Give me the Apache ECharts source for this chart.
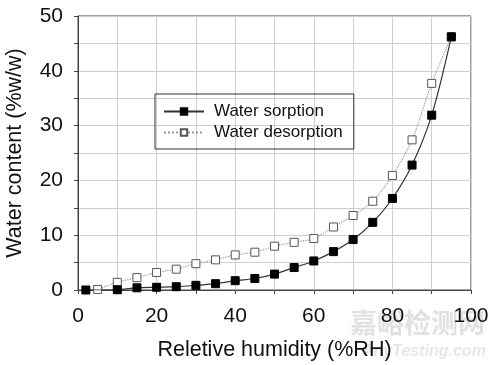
<!DOCTYPE html>
<html><head><meta charset="utf-8">
<script src="https://cdn.jsdelivr.net/npm/echarts@6/dist/echarts.min.js"></script>
<style>html,body{margin:0;padding:0;background:#fff}#c{width:500px;height:365px}</style>
</head><body><div id="c"></div>
<script>
const sorptionRH = [2, 10, 15, 20, 25, 30, 35, 40, 45, 50, 55, 60, 65, 70, 75, 80, 85, 90, 95];
const sorptionWC = [0, 0.05, 0.4, 0.5, 0.6, 0.85, 1.15, 1.7, 2.1, 2.9, 4.1, 5.3, 7.0, 9.2, 12.35, 16.7, 22.8, 31.9, 46.2];
const desorptionRH = [5, 10, 15, 20, 25, 30, 35, 40, 45, 50, 55, 60, 65, 70, 75, 80, 85, 90, 95];
const desorptionWC = [0.1, 1.4, 2.25, 3.2, 3.8, 4.8, 5.5, 6.4, 6.9, 8.0, 8.7, 9.4, 11.5, 13.6, 16.2, 20.9, 27.4, 37.7, 46.2];
const seriesNames = ['Water sorption', 'Water desorption'];
const xTitle = 'Reletive humidity (%RH)';
const yTitle = 'Water content (%w/w)';

const font = 'Liberation Sans, Arial, sans-serif';
const chart = echarts.init(document.getElementById('c'), null, {renderer: 'canvas'});
chart.setOption({
  animation: false,
  grid: {left: 78, right: 29, top: 16, bottom: 75, containLabel: false, outerBoundsMode: 'none',
    show: true, borderColor: '#444', borderWidth: 1, backgroundColor: 'transparent'},
  legend: {
    left: 155, top: 94, orient: 'vertical',
    borderColor: '#333', borderWidth: 1, padding: [9, 11, 8, 8],
    itemWidth: 40, itemHeight: 8, itemGap: 4,
    textStyle: {fontFamily: font, fontSize: 17, color: '#111', padding: [0, 0, 0, 5]},
    data: seriesNames
  },
  xAxis: {
    type: 'value', min: 0, max: 100, interval: 10,
    name: xTitle, nameLocation: 'middle', nameGap: 49,
    nameTextStyle: {fontFamily: font, fontSize: 21.5, color: '#111'},
    axisLine: {show: true, lineStyle: {color: '#444'}},
    axisTick: {show: true, length: 4, lineStyle: {color: '#444'}},
    axisLabel: {fontFamily: font, fontSize: 21, color: '#111', margin: 16,
      formatter: v => (v % 20 === 0 ? String(v) : '')},
    splitLine: {show: true, lineStyle: {color: '#cfcfcf', width: 1}}
  },
  yAxis: {
    type: 'value', min: 0, max: 50, interval: 5,
    name: yTitle, nameLocation: 'middle', nameGap: 52, nameRotate: 90,
    nameTextStyle: {fontFamily: font, fontSize: 21.5, color: '#111'},
    axisLine: {show: true, lineStyle: {color: '#444'}},
    axisTick: {show: true, length: 4, lineStyle: {color: '#444'}},
    axisLabel: {fontFamily: font, fontSize: 21, color: '#111', margin: 15,
      formatter: v => (v % 10 === 0 ? String(v) : '')},
    splitLine: {show: true, lineStyle: {color: '#cfcfcf', width: 1}}
  },
  series: [
    {
      name: seriesNames[0], type: 'line', smooth: 0.3,
      data: sorptionRH.map((x, i) => [x, sorptionWC[i]]),
      symbol: 'rect', symbolSize: 8,
      lineStyle: {color: '#333', width: 1.2, type: 'solid'},
      itemStyle: {color: '#000', borderColor: '#000', borderWidth: 1},
      z: 3
    },
    {
      name: seriesNames[1], type: 'line', smooth: 0.3,
      data: desorptionRH.map((x, i) => [x, desorptionWC[i]]),
      symbol: 'rect', symbolSize: 8,
      lineStyle: {color: '#999', width: 1.2, type: 'dotted'},
      itemStyle: {color: '#fff', borderColor: '#555', borderWidth: 1},
      z: 2
    }
  ],
  graphic: [
    {type: 'text', left: 350, top: 309, z: 0, style: {text: '嘉峪检测网', fontFamily: 'Noto Sans CJK SC', fontSize: 27, fontWeight: 'bold', fill: 'rgba(200,200,200,0.55)'}},
    {type: 'text', left: 362, top: 344, z: 0, style: {text: 'AnyTesting.com', fontFamily: font, fontSize: 16, fontStyle: 'italic', fontWeight: 'bold', fill: 'rgba(200,200,200,0.45)'}}
  ]
});
</script></body></html>
